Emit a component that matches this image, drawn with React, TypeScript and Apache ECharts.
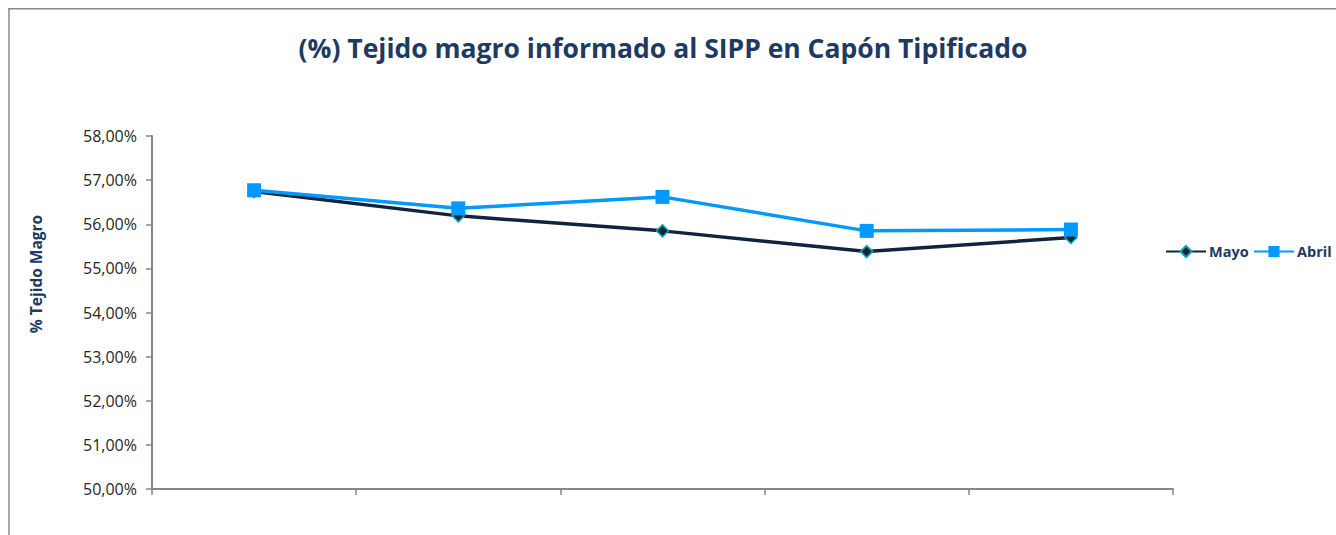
import React, { useEffect, useRef } from "react";
import * as echarts from "echarts";

const categories = ["1", "2", "3", "4", "5"];
const mayo = [56.74, 56.19, 55.85, 55.38, 55.7];
const abril = [56.77, 56.36, 56.62, 55.85, 55.88];
const titleText = "(%) Tejido magro informado al SIPP en Capón Tipificado";
const yAxisName = "% Tejido Magro";

export default function App() {
  const ref = useRef<HTMLDivElement>(null);
  useEffect(() => {
    document.body.style.margin = "0";
    document.body.style.overflow = "hidden";
    const chart = echarts.init(ref.current!, null, { renderer: "svg" });
    const navy = "#1F3A60";
    const legendBase = {
      top: 244,
      padding: 0,
      itemWidth: 40,
      itemHeight: 14,
      itemGap: 4,
      textStyle: { fontFamily: "Open Sans", fontWeight: "bold", fontSize: 14.5, color: navy, padding: [0, 0, 0, -2] },
    };
    chart.setOption({
      animation: false,
      backgroundColor: "#fff",
      title: {
        text: titleText,
        left: 658,
        textAlign: "center",
        top: 29,
        textStyle: { fontFamily: "Open Sans", fontWeight: "bold", fontSize: 26.5, color: navy },
      },
      graphic: [
        {
          type: "line",
          shape: { x1: 9, y1: 8, x2: 9, y2: 600 },
          style: { stroke: "#8c8c8c", lineWidth: 1.5 },
          silent: true,
        },
        {
          type: "line",
          shape: { x1: 8, y1: 8.75, x2: 1400, y2: 8.75 },
          style: { stroke: "#8c8c8c", lineWidth: 1.5 },
          silent: true,
        },
        {
          type: "text",
          x: 36,
          y: 274,
          rotation: Math.PI / 2,
          style: {
            text: yAxisName,
            fontFamily: "Open Sans",
            fontWeight: "bold",
            fontSize: 15.5,
            fill: navy,
            align: "center",
            verticalAlign: "middle",
          },
        },
      ],
      legend: [
        { ...legendBase, left: 1165, data: ["Mayo"] },
        { ...legendBase, left: 1253, data: ["Abril"] },
      ],
      grid: { left: 152, top: 136, width: 1021, height: 353 },
      xAxis: {
        type: "category",
        data: categories,
        boundaryGap: true,
        axisLine: { lineStyle: { color: "#878787", width: 2 } },
        axisTick: { show: true, length: 6, lineStyle: { color: "#878787", width: 1.5 } },
        axisLabel: { show: false },
      },
      yAxis: {
        type: "value",
        min: 50,
        max: 58,
        interval: 1,
        axisLine: { show: true, lineStyle: { color: "#878787", width: 2 } },
        axisTick: { show: true, length: 6, lineStyle: { color: "#878787", width: 1.5 } },
        splitLine: { show: false },
        axisLabel: {
          fontFamily: "Open Sans",
          fontSize: 16,
          color: "#262626",
          margin: 15,
          formatter: (v: number) => v.toFixed(2).replace(".", ",") + "%",
        },
      },
      series: [
        {
          name: "Mayo",
          type: "line",
          data: mayo,
          symbol: "diamond",
          symbolSize: 12,
          lineStyle: { color: "#12233F", width: 3.5 },
          itemStyle: { color: "#12233F", borderColor: "#0EA3A3", borderWidth: 1.5 },
        },
        {
          name: "Abril",
          type: "line",
          data: abril,
          symbol: "rect",
          symbolSize: 14,
          lineStyle: { color: "#0099FF", width: 3.5 },
          itemStyle: { color: "#0099FF", borderWidth: 0 },
        },
      ],
    });
    return () => chart.dispose();
  }, []);
  return <div ref={ref} style={{ width: 1336, height: 535 }} />;
}
